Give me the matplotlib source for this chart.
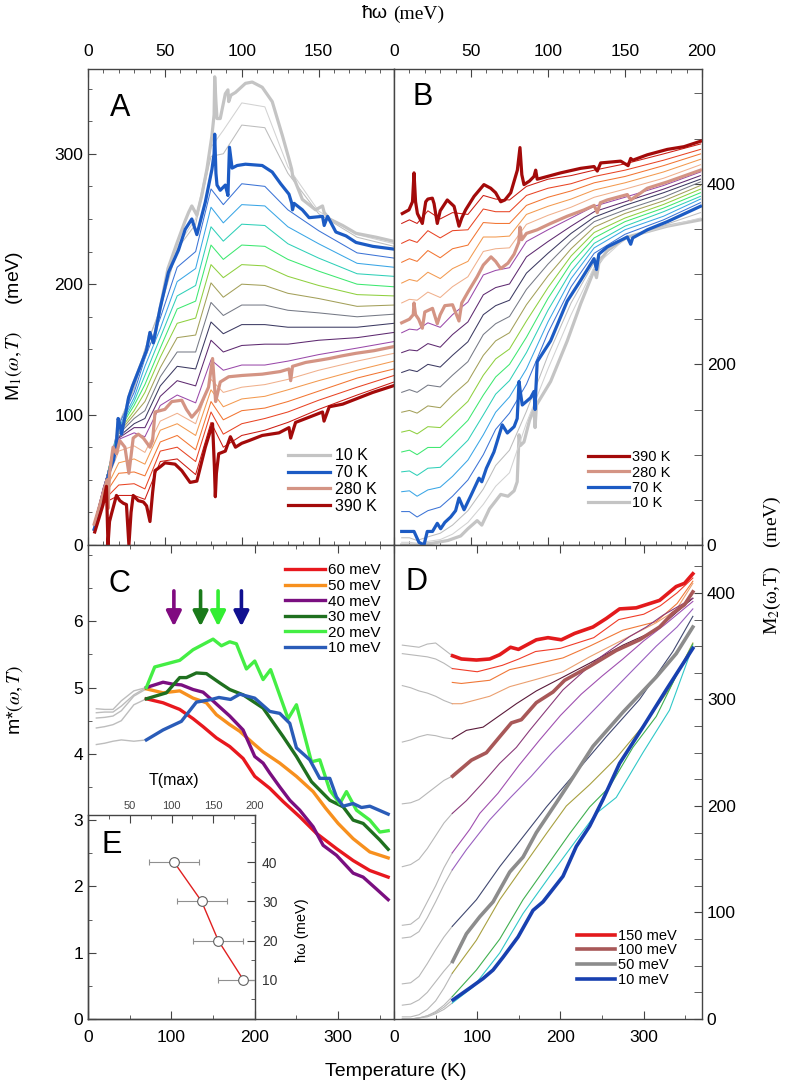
import matplotlib
matplotlib.use('Agg')
import matplotlib.pyplot as plt
from matplotlib.ticker import MultipleLocator, FixedLocator

plt.rcParams['font.family'] = ['Liberation Sans', 'DejaVu Sans']
plt.rcParams['mathtext.fontset'] = 'stix'

# ---------------- panel A : M1(w,T) ----------------
wA10 = [4, 6, 8, 10, 12, 14, 16.6, 18.5, 19.6, 20.9, 21.8, 24, 26.4, 29, 31, 33, 35, 38, 40.3, 42.5, 46.8,
        52, 58, 63, 65.4, 67.5, 70.8, 74, 77.3, 80.6, 82.0, 82.4, 83.2, 83.9, 86, 89.3, 91, 91.5, 93, 95.9,
        102.4, 106.8, 113.3, 119.8, 126.4, 130.7, 132.5, 133.2, 134, 139.4, 148, 152.5, 153.6, 156.9, 165.6,
        174.3, 187.4, 198.3]
mA10 = [12, 19, 28, 37, 48, 57, 65, 78, 97, 92, 85, 98, 113, 122, 128, 134, 140, 149, 163, 155, 181,
        212, 232, 248, 255, 260, 253, 268, 288, 314, 330, 359, 340, 327, 327, 346, 349, 340, 345, 347,
        354, 355, 351, 340, 314, 296, 288, 282, 281, 265, 257, 260, 255, 250, 245,
        239, 236, 233]
wA70 = [4, 6, 8, 10, 12, 14, 16.6, 18.5, 19.6, 20.9, 21.8, 24, 26.4, 29, 31, 33, 35, 38, 40.3, 42.5, 46.8,
        52.3, 58.8, 63.2, 67.5, 70.8, 76.3, 80.6, 82.0, 82.4, 83.2, 83.9, 86, 89.3, 91, 92, 93.7, 97,
        102.4, 113.3, 119.8, 125.3, 130.7, 132.5, 133, 134, 139.4, 143.8, 152.5, 153.6, 155.8, 161.2,
        167.8, 174.3, 185.2, 198.3]
mA70 = [12, 19, 28, 37, 48, 57, 65, 78, 97, 92, 85, 98, 113, 122, 128, 134, 140, 149, 163, 155, 181,
        209, 226, 242, 250, 238, 263, 288, 300, 315, 285, 276, 272, 276, 268, 305, 289, 291,
        292, 291, 286, 277, 269, 262, 257, 262, 257, 251, 252, 245, 252, 240,
        237, 232, 229, 227]
wA280 = [4, 7, 10.9, 12.5, 13, 14, 16.3, 18.5, 20.7, 24, 26.6, 29.4, 32.7, 36, 40.3, 42, 43.6, 50, 54.5,
         61, 64, 67.5, 71.9, 78.4, 81, 82.5, 83, 86, 91.5, 100.2, 113.3, 125, 130.7, 131.8, 133, 141.6,
         152, 156.9, 165, 174.3, 186, 198.3]
mA280 = [16, 28, 44, 50, 28, 55, 75, 70, 80, 75, 55, 82, 85, 82, 75, 80, 102, 104, 110,
         111, 104, 98, 104, 121, 143, 118, 110, 125, 129, 130, 131, 133, 135, 126, 137, 140,
         142, 143, 145, 147, 149, 152]
wA390 = [4.4, 7, 9.8, 12, 13, 14, 15.3, 18.5, 20.7, 23, 25, 26.6, 28, 29.4, 32.7, 36, 38.1, 40.3, 42, 43.6,
         47, 50.1, 56.6, 61, 66.4, 70.8, 76.3, 81, 82.2, 82.8, 83.5, 85, 89.3, 92.6, 95.9, 100, 104.6,
         113.3, 124.2, 130.7, 131.8, 135, 143.8, 152.5, 153.5, 156.9, 165.6, 174.3, 185.2, 198.3]
mA390 = [10, 20, 31, 45, 0, 18, 24, 38, 34, 32, 31, 0, 25, 38, 34, 33, 30, 18, 40, 57,
         60, 63, 62, 57, 48, 49, 75, 93, 60, 37, 55, 70, 72, 83, 75, 78, 80,
         84, 86, 90, 82, 94, 98, 102, 95, 106, 108, 112, 117, 122]

# thin curves of A and B (temperatures between the highlighted ones)
T_thin = [30, 50, 90, 110, 130, 150, 170, 190, 210, 230, 250, 270, 300, 320, 340, 360, 380]
thin_colors = ['#d2d2d2', '#bdbdbd', '#3c74d6', '#3aa6e6', '#2fd0b8', '#3de870', '#8fd040', '#a3a05a',
               '#767a86', '#3c3a62', '#5e2a70', '#9a4aaa', '#f0b08c', '#f39a50', '#f27532', '#e84424',
               '#cc1c12']
wA_thin = [4, 10, 20, 30, 37, 47, 58, 70, 80, 88, 100, 115, 130, 150, 175, 199]
mA_thin = [
    [15, 40, 93, 120, 150, 181, 229, 250, 305, 318, 339, 336, 290, 256, 238, 231],
    [15, 40, 93, 120, 150, 181, 227, 246, 298, 300, 322, 320, 285, 254, 236, 229],
    [15, 41, 92, 117, 143, 174, 213, 225, 273, 261, 277, 275, 257, 241, 224, 220],
    [15, 41, 90, 113, 137, 166, 202, 212, 259, 247, 261, 260, 244, 231, 216, 213],
    [15, 42, 89, 110, 130, 159, 191, 199, 244, 233, 246, 245, 231, 220, 208, 206],
    [15, 42, 88, 107, 123, 151, 181, 187, 230, 219, 230, 229, 219, 210, 200, 198],
    [16, 42, 87, 103, 117, 144, 170, 174, 215, 205, 215, 214, 206, 199, 192, 191],
    [16, 43, 86, 100, 110, 136, 159, 161, 201, 190, 200, 199, 193, 189, 183, 184],
    [16, 43, 85, 97, 103, 129, 148, 148, 186, 176, 184, 184, 180, 178, 175, 177],
    [16, 43, 83, 93, 97, 122, 137, 135, 171, 162, 169, 169, 167, 167, 167, 170],
    [16, 44, 82, 90, 90, 114, 126, 122, 157, 148, 153, 154, 154, 157, 159, 163],
    [16, 44, 81, 86, 83, 107, 115, 109, 142, 134, 138, 138, 141, 146, 151, 156],
    [15, 42, 72, 76, 71, 95, 101, 93, 127, 117, 121, 123, 127, 134, 141, 147],
    [14, 39, 63, 66, 62, 88, 93, 84, 119, 106, 112, 114, 119, 126, 134, 141],
    [13, 37, 55, 56, 53, 79, 84, 73, 110, 96, 103, 105, 110, 118, 128, 135],
    [12, 34, 46, 47, 43, 72, 75, 64, 102, 85, 93, 97, 102, 111, 121, 130],
    [11, 32, 38, 38, 35, 64, 66, 54, 94, 75, 84, 88, 94, 104, 115, 125],
]

# ---------------- panel B : M2(w,T) ----------------
wB390 = [5.4, 9.7, 12, 13, 14, 15.2, 18.4, 20.6, 22, 24.9, 26, 28.1, 30, 34.6, 39, 42.2, 44, 46.5, 52,
         58.4, 62.8, 66, 69.3, 72, 75.8, 80.1, 81.8, 83, 84.4, 88, 90.9, 92, 93, 95.2, 108.2, 121.2,
         129.9, 132, 134.2, 147.2, 152, 153.7, 155, 164.5, 177.5, 188.3, 199]
mB390 = [367, 371, 380, 412, 380, 367, 356, 380, 383, 384, 378, 356, 370, 382, 375, 353, 362, 371, 386,
         399, 395, 390, 380, 382, 390, 415, 440, 410, 399, 403, 408, 415, 405, 406, 412, 417,
         419, 414, 423, 425, 420, 428, 426, 432, 438, 441, 447]
wB280 = [5, 10, 12.5, 13, 14, 16, 18.4, 20, 25, 28.1, 30, 33, 38, 42.2, 44, 48, 54, 58, 63, 66, 69.3, 74,
         78, 81, 81.8, 83, 86, 93, 101.7, 112.5, 123.4, 130, 132, 134, 138.5, 151.5, 153.7, 164.5,
         177.5, 199]
mB280 = [246, 250, 255, 268, 255, 250, 240, 258, 262, 245, 255, 265, 266, 248, 268, 280, 297, 310, 319,
         314, 306, 312, 322, 335, 352, 338, 345, 349, 356, 364, 371, 376, 368, 379, 382, 388, 382, 395,
         402, 415]
wB70 = [5, 10, 13, 16.2, 19.5, 21.6, 25, 28.1, 30.3, 33, 36.8, 40, 42.2, 45.5, 50, 55.2, 57, 60, 64.9,
        70.3, 73.6, 78, 80, 81.2, 82, 83.3, 88.7, 90.9, 91.6, 92.2, 93, 101.7, 112.5, 121.2, 129.9, 131.5,
        133, 138.5, 151.5, 153.7, 155, 164.5, 177.5, 199]
mB70 = [15, 15, 15, 3, 0, 15, 15, 24, 18, 25, 31, 38, 52, 39, 55, 74, 70, 85, 103,
        133, 124, 131, 140, 181, 170, 155, 163, 170, 150, 175, 203, 226, 270, 293, 317, 305,
        322, 330, 341, 333, 340, 349, 358, 375]
wB10 = [5, 15, 25, 35, 43.3, 48, 54, 57, 62, 69.3, 74, 78, 80, 81.2, 82, 84.4, 88, 90.9, 91.6, 92.5,
        101.7, 112.5, 121.2, 129.9, 131.5, 133, 138.5, 151.5, 164.5, 177.5, 199]
mB10 = [0, 0, 2, 5, 10, 18, 27, 22, 40, 56, 54, 60, 70, 122, 110, 114, 138, 151, 130, 155,
        181, 226, 267, 304, 296, 312, 326, 341, 347, 353, 360]
wB_thin = [5, 10, 15, 22, 30, 38, 48, 58, 66, 75, 86, 100, 115, 130, 150, 175, 199]
mB_thin = [
    [3, 3, 2, 4, 6, 12, 25, 45, 65, 80, 135, 195, 255, 308, 339, 352, 362],
    [8, 8, 5, 9, 13, 22, 38, 62, 88, 105, 148, 210, 268, 313, 340, 354, 368],
    [37, 37, 31, 38, 42, 54, 72, 100, 128, 146, 178, 235, 286, 323, 344, 360, 379],
    [59, 60, 54, 61, 64, 76, 94, 122, 147, 164, 195, 247, 295, 329, 349, 364, 383],
    [81, 82, 77, 85, 86, 99, 116, 144, 167, 182, 213, 260, 303, 334, 353, 369, 386],
    [103, 105, 100, 108, 108, 121, 138, 166, 186, 200, 230, 273, 312, 340, 358, 373, 390],
    [125, 127, 123, 131, 130, 143, 159, 188, 206, 217, 248, 285, 320, 346, 362, 377, 394],
    [147, 149, 146, 154, 152, 166, 181, 210, 226, 235, 266, 298, 328, 352, 367, 381, 398],
    [169, 172, 169, 177, 175, 188, 203, 233, 245, 253, 283, 311, 337, 358, 371, 385, 402],
    [191, 194, 192, 200, 197, 210, 225, 255, 265, 271, 301, 323, 345, 363, 376, 390, 405],
    [213, 216, 215, 223, 219, 233, 247, 277, 285, 289, 319, 336, 353, 369, 380, 394, 409],
    [235, 239, 238, 246, 241, 255, 269, 299, 304, 307, 336, 349, 362, 375, 385, 398, 413],
    [268, 272, 271, 280, 274, 286, 297, 325, 328, 329, 355, 365, 374, 385, 394, 406, 421],
    [290, 294, 292, 302, 295, 306, 314, 341, 341, 342, 366, 375, 383, 393, 401, 413, 427],
    [313, 317, 314, 326, 318, 328, 332, 357, 356, 356, 376, 385, 392, 401, 408, 420, 433],
    [334, 338, 335, 348, 340, 348, 349, 372, 369, 369, 387, 395, 400, 408, 415, 426, 438],
    [356, 360, 356, 370, 361, 368, 366, 387, 383, 382, 397, 405, 409, 415, 422, 433, 444],
]

# ---------------- panel C : m*(w,T) ----------------
T_c60 = [70, 90, 110, 126, 138, 154, 170, 186, 200, 218, 234, 254, 274, 298, 318, 338, 360]
m_c60 = [4.83, 4.77, 4.67, 4.53, 4.41, 4.24, 4.11, 3.93, 3.66, 3.48, 3.28, 3.05, 2.80, 2.57, 2.39, 2.24, 2.14]
T_c50 = [70, 90, 110, 126, 142, 154, 170, 182, 198, 210, 230, 250, 270, 285, 300, 318, 338, 360]
m_c50 = [4.98, 4.92, 4.95, 4.84, 4.77, 4.59, 4.44, 4.34, 4.16, 4.03, 3.86, 3.66, 3.43, 3.18, 2.95, 2.72,
         2.52, 2.43]
T_c40 = [70, 90, 102, 112, 126, 138, 148, 170, 186, 200, 210, 218, 230, 242, 254, 270, 282, 298, 318, 330,
         346, 360]
m_c40 = [5.0, 5.08, 5.05, 5.04, 4.97, 4.93, 4.82, 4.57, 4.36, 3.96, 3.86, 3.71, 3.50, 3.30, 3.15, 2.90,
         2.62, 2.47, 2.20, 2.14, 1.96, 1.80]
T_c30 = [70, 94, 110, 118, 130, 142, 158, 170, 186, 210, 234, 250, 268, 290, 306, 318, 330, 342, 350, 360]
m_c30 = [4.83, 4.92, 5.15, 5.15, 5.22, 5.21, 5.07, 4.97, 4.89, 4.69, 4.26, 3.96, 3.58, 3.30, 3.20, 3.0,
         2.95, 2.80, 2.70, 2.56]
T_c20 = [70, 80, 110, 126, 150, 160, 170, 178, 190, 200, 210, 219, 240, 250, 268, 278, 290, 302, 310, 322,
         338, 350, 360]
m_c20 = [5.0, 5.31, 5.41, 5.57, 5.73, 5.63, 5.69, 5.66, 5.28, 5.40, 5.12, 5.27, 4.53, 4.74, 3.88, 3.91,
         3.45, 3.25, 3.43, 3.15, 3.0, 2.82, 2.84]
T_c10 = [70, 90, 112, 130, 148, 157, 171, 182, 200, 218, 230, 242, 250, 266, 278, 290, 298, 306, 318, 328,
         338, 360]
m_c10 = [4.21, 4.36, 4.49, 4.78, 4.82, 4.85, 4.82, 4.90, 4.84, 4.64, 4.61, 4.46, 4.09, 3.91, 3.63, 3.63,
         3.35, 3.21, 3.25, 3.19, 3.21, 3.09]
T_cgray = [10, 20, 30, 40, 55, 70]
m_cgray = [
    [4.14, 4.16, 4.19, 4.21, 4.19, 4.21],
    [4.39, 4.41, 4.44, 4.50, 4.74, 4.83],
    [4.54, 4.55, 4.57, 4.65, 4.87, 4.98],
    [4.62, 4.63, 4.63, 4.72, 4.89, 5.0],
    [4.68, 4.67, 4.67, 4.80, 4.95, 5.0],
]
arrow_T = [103, 135, 156, 184]
arrow_colors = ['#800a80', '#1a7a1a', '#33ee33', '#101090']

# ---------------- panel D : M2(T) at fixed w ----------------
T_d150 = [70.4, 81, 99, 115, 127, 140, 149.5, 171, 185, 201, 217, 239, 255, 271, 291, 319, 339, 349, 359]
M_d150 = [341, 338, 337, 338, 342, 349, 347, 356, 358, 356, 362, 368, 376, 385, 386, 393, 406, 409, 418]
T_d100 = [70.4, 93, 111, 127, 141, 153, 171, 191, 205, 235, 267, 295, 319, 335, 349, 359]
M_d100 = [228, 243, 250, 265, 278, 281, 297, 307, 318, 331, 346, 356, 368, 381, 389, 401]
T_d50 = [70.4, 87, 103, 119, 139, 155, 171, 195, 211, 239, 275, 315, 339, 359]
M_d50 = [54, 80, 96, 110, 138, 152, 175, 203, 222, 256, 288, 321, 343, 368]
T_d10 = [71, 91, 107, 119, 131, 149, 167, 179, 203, 219, 235, 251, 271, 299, 327, 359]
M_d10 = [18, 29, 38, 46, 58, 77, 102, 110, 134, 162, 181, 206, 240, 274, 309, 348]

T_d140 = [70, 100, 130, 150, 170, 200, 240, 270, 300, 320, 340, 359]
M_d140 = [329, 326, 332, 338, 345, 348, 358, 375, 380, 388, 400, 414]
T_d130 = [70, 81, 115, 139, 163, 203, 235, 275, 315, 340, 359]
M_d130 = [316, 315, 318, 328, 332, 339, 350, 365, 373, 390, 411]
T_d120 = [70, 81, 115, 139, 167, 203, 235, 275, 315, 339, 359]
M_d120 = [296, 296, 303, 312, 318, 326, 340, 356, 372, 384, 409]
T_d110 = [70, 87, 107, 127, 147, 171, 203, 235, 275, 315, 347, 359]
M_d110 = [263, 271, 274, 285, 296, 308, 321, 334, 351, 365, 387, 395]
T_d90 = [70, 87, 107, 127, 147, 163, 183, 203, 223, 243, 263, 283, 303, 323, 343, 359]
M_d90 = [193, 205, 222, 240, 255, 271, 290, 309, 323, 337, 348, 359, 368, 379, 388, 395]
T_d80 = [70, 91, 103, 125, 150, 175, 200, 225, 250, 275, 300, 325, 359]
M_d80 = [156, 178, 193, 212, 238, 262, 285, 305, 322, 338, 355, 370, 392]
T_d70 = [70, 87, 115, 140, 165, 190, 215, 240, 265, 290, 315, 340, 359]
M_d70 = [140, 159, 187, 208, 228, 250, 270, 290, 310, 330, 350, 368, 385]
T_d60 = [70, 99, 127, 155, 183, 219, 255, 295, 335, 359]
M_d60 = [87, 112, 143, 171, 199, 232, 265, 300, 345, 378]
T_d40 = [70, 99, 127, 155, 183, 207, 235, 267, 299, 331, 359]
M_d40 = [43, 74, 112, 143, 174, 200, 220, 245, 275, 310, 353]
T_d30 = [70, 99, 127, 155, 183, 211, 235, 259, 287, 315, 339, 359]
M_d30 = [21, 46, 75, 112, 143, 174, 199, 218, 255, 284, 322, 352]
T_d20 = [70, 95, 127, 155, 187, 219, 243, 267, 299, 331, 359]
M_d20 = [15, 30, 62, 99, 134, 168, 193, 208, 250, 290, 350]

T_dgray = [10, 20, 30, 40, 50, 60, 70]
M_dgray = [
    [351, 350, 349, 352, 353, 347, 341],
    [343, 342, 341, 340, 338, 334, 329],
    [313, 311, 308, 306, 303, 299, 296],
    [260, 262, 265, 267, 266, 264, 263],
    [202, 203, 206, 212, 218, 224, 228],
    [143, 145, 150, 160, 172, 184, 193],
    [88, 89, 95, 110, 125, 142, 156],
    [76, 77, 82, 95, 110, 126, 140],
    [33, 34, 40, 52, 65, 77, 87],
    [13, 14, 18, 25, 35, 45, 54],
    [2, 2, 4, 9, 17, 29, 43],
    [0, 0, 1, 3, 7, 13, 21],
    [0, 0, 1, 2, 5, 9, 15],
    [0, 0, 1, 3, 6, 11, 18],
]

# ---------------- inset E ----------------
T_max = [103, 136, 156, 186]
w_E = [40, 30, 20, 10]
T_err = [30, 30, 30, 30]

# ---------------- figure ----------------
W, H = 793, 1086
fig = plt.figure(figsize=(W / 100, H / 100), dpi=100)


def box(x0, y0, x1, y1):
    return [x0 / W, 1 - y1 / H, (x1 - x0) / W, (y1 - y0) / H]


axA = fig.add_axes(box(88, 69, 394, 545))
axB = fig.add_axes(box(394, 69, 702, 545))
axC = fig.add_axes(box(88, 545, 394, 1019))
axD = fig.add_axes(box(394, 545, 702, 1019))
axE = fig.add_axes(box(88, 815, 255, 1019))
axE.set_facecolor('none')

c10, c70, c280, c390 = '#c4c4c4', '#1c5bc4', '#d49484', '#a30a0a'
thin_lw, thick_lw = 0.75, 2.3

# A
for row, col in zip(mA_thin, thin_colors):
    axA.plot(wA_thin, row, color=col, lw=thin_lw, zorder=2)
lA10, = axA.plot(wA10, mA10, color=c10, lw=thick_lw, zorder=3, label='10 K')
lA70, = axA.plot(wA70, mA70, color=c70, lw=thick_lw, zorder=4, label='70 K')
lA280, = axA.plot(wA280, mA280, color=c280, lw=thick_lw, zorder=4, label='280 K')
lA390, = axA.plot(wA390, mA390, color=c390, lw=thick_lw, zorder=4, label='390 K')
axA.legend(handles=[lA10, lA70, lA280, lA390], loc='lower right', bbox_to_anchor=(0.99, 0.035),
           frameon=False, fontsize=11.5, handlelength=2.6, labelspacing=0.12, handletextpad=0.3)

# B
lB10, = axB.plot(wB10, mB10, color=c10, lw=thick_lw, zorder=2, label='10 K')
for row, col in zip(mB_thin, thin_colors):
    axB.plot(wB_thin, row, color=col, lw=thin_lw, zorder=2)
lB70, = axB.plot(wB70, mB70, color=c70, lw=thick_lw, zorder=4, label='70 K')
lB280, = axB.plot(wB280, mB280, color=c280, lw=thick_lw, zorder=4, label='280 K')
lB390, = axB.plot(wB390, mB390, color=c390, lw=thick_lw, zorder=4, label='390 K')
axB.legend(handles=[lB390, lB280, lB70, lB10], loc='lower right', bbox_to_anchor=(0.94, 0.045),
           frameon=False, fontsize=10.5, handlelength=2.8, labelspacing=0.1, handletextpad=0.2)

# C
for row in m_cgray:
    axC.plot(T_cgray, row, color='#bdbdbd', lw=1.0, zorder=2)
curvesC = [(T_c60, m_c60, '#e8181e', '60 meV'), (T_c50, m_c50, '#f7901e', '50 meV'),
           (T_c40, m_c40, '#7a0f80', '40 meV'), (T_c30, m_c30, '#1f701f', '30 meV'),
           (T_c20, m_c20, '#44ee44', '20 meV'), (T_c10, m_c10, '#2a5cb8', '10 meV')]
for t, m, col, lab in curvesC:
    axC.plot(t, m, color=col, lw=2.4, label=lab, zorder=3)
axC.legend(loc='upper right', bbox_to_anchor=(1.0, 0.99), frameon=False, fontsize=11,
           handlelength=2.6, labelspacing=0.1, handletextpad=0.2)
for t, col in zip(arrow_T, arrow_colors):
    axC.annotate('', xy=(t, 5.88), xytext=(t, 6.5),
                 arrowprops=dict(arrowstyle='-|>,head_width=0.45,head_length=0.9', color=col, lw=2.6))

# D
for row in M_dgray:
    axD.plot(T_dgray, row, color='#b8b8b8', lw=0.8, zorder=2)
thinD = [(T_d140, M_d140, '#f03c28'), (T_d130, M_d130, '#f07838'), (T_d120, M_d120, '#eba070'),
         (T_d110, M_d110, '#5a1a3a'), (T_d90, M_d90, '#8a3a7a'), (T_d80, M_d80, '#a050b0'),
         (T_d70, M_d70, '#9a60c0'), (T_d60, M_d60, '#404870'), (T_d40, M_d40, '#a8a040'),
         (T_d30, M_d30, '#40b050'), (T_d20, M_d20, '#30c8c8')]
for t, m, col in thinD:
    axD.plot(t, m, color=col, lw=0.8, zorder=2)
lD150, = axD.plot(T_d150, M_d150, color='#e31a1c', lw=thick_lw + 0.3, zorder=4, label='150 meV')
lD100, = axD.plot(T_d100, M_d100, color='#a85858', lw=thick_lw + 0.3, zorder=4, label='100 meV')
lD50, = axD.plot(T_d50, M_d50, color='#8c8c8c', lw=thick_lw + 0.3, zorder=4, label='50 meV')
lD10, = axD.plot(T_d10, M_d10, color='#1840b0', lw=thick_lw + 0.3, zorder=4, label='10 meV')
axD.legend(handles=[lD150, lD100, lD50, lD10], loc='lower right', bbox_to_anchor=(0.96, 0.04),
           frameon=False, fontsize=10.5, handlelength=2.6, labelspacing=0.05, handletextpad=0.2)

# E
axE.plot(T_max, w_E, color='#e02020', lw=1.0, zorder=2)
axE.errorbar(T_max, w_E, xerr=T_err, fmt='o', ms=7, mfc='white', mec='#606060', mew=0.8,
             ecolor='#909090', elinewidth=0.8, capsize=2, zorder=3)

# axes cosmetics
spine_col = '#444444'
for ax in (axA, axB, axC, axD, axE):
    for s in ax.spines.values():
        s.set_color(spine_col)
        s.set_linewidth(1.0)
    ax.tick_params(which='both', direction='in', colors=spine_col, labelcolor='black', labelsize=12.5)
    ax.tick_params(which='major', length=6)
    ax.tick_params(which='minor', length=3)

axA.set_xlim(0, 199)
axA.set_ylim(0, 365)
axA.xaxis.set_major_locator(FixedLocator([0, 50, 100, 150]))
axA.xaxis.set_minor_locator(MultipleLocator(10))
axA.yaxis.set_major_locator(MultipleLocator(100))
axA.yaxis.set_minor_locator(MultipleLocator(25))
axA.tick_params(which='both', top=True, bottom=True, left=True, right=False,
                labeltop=True, labelbottom=False)
axA.tick_params(axis='x', pad=7)

axB.set_xlim(0, 200)
axB.set_ylim(0, 527)
axB.xaxis.set_major_locator(MultipleLocator(50))
axB.xaxis.set_minor_locator(MultipleLocator(10))
axB.yaxis.set_major_locator(MultipleLocator(200))
axB.yaxis.set_minor_locator(MultipleLocator(50))
axB.tick_params(which='both', top=True, bottom=True, left=False, right=True,
                labeltop=True, labelbottom=False, labelleft=False, labelright=True)
axB.tick_params(axis='x', pad=7)
axB.tick_params(axis='y', which='minor', length=6)

axC.set_xlim(0, 367)
axC.set_ylim(0, 7.15)
axC.xaxis.set_major_locator(MultipleLocator(100))
axC.xaxis.set_minor_locator(MultipleLocator(50))
axC.yaxis.set_major_locator(FixedLocator([0, 1, 2, 3, 4, 5, 6]))
axC.yaxis.set_minor_locator(MultipleLocator(0.5))
axC.tick_params(which='both', top=True, bottom=True, left=True, right=False)
axC.tick_params(axis='x', pad=8)

axD.set_xlim(0, 370)
axD.set_ylim(0, 445)
axD.xaxis.set_major_locator(MultipleLocator(100))
axD.xaxis.set_minor_locator(MultipleLocator(50))
axD.yaxis.set_major_locator(MultipleLocator(100))
axD.yaxis.set_minor_locator(MultipleLocator(25))
axD.tick_params(which='both', top=True, bottom=True, left=False, right=True,
                labelleft=False, labelright=True)
axD.tick_params(axis='x', pad=8)
axD.tick_params(axis='y', which='minor', length=6)

axE.set_xlim(0, 200)
axE.set_ylim(0, 52)
axE.xaxis.set_major_locator(FixedLocator([50, 100, 150, 200]))
axE.xaxis.set_minor_locator(MultipleLocator(25))
axE.yaxis.set_major_locator(FixedLocator([10, 20, 30, 40]))
axE.yaxis.set_minor_locator(MultipleLocator(5))
axE.tick_params(which='both', top=True, bottom=False, left=False, right=True,
                labeltop=True, labelbottom=False, labelleft=False, labelright=True)
axE.tick_params(axis='x', labelsize=8, labelcolor='#444444', pad=3)
axE.tick_params(axis='y', labelsize=10, labelcolor='#333333', pad=5)

# panel letters
for ax, letter, (px, py) in [(axA, 'A', (120, 108)), (axB, 'B', (423, 97)), (axC, 'C', (119, 584)),
                             (axD, 'D', (417, 582)), (axE, 'E', (112, 845))]:
    fig.text(px / W, 1 - py / H, letter, fontsize=22, ha='center', va='center')

# axis titles
fig.text(388 / W, 1 - 14 / H, 'ħω', fontsize=14, ha='right', va='center')
fig.text(393 / W, 1 - 14 / H, '(meV)', fontsize=14, ha='left', va='center',
         family=['Liberation Serif', 'DejaVu Serif'])
fig.text(396 / W, 1 - 1071 / H, 'Temperature (K)', fontsize=14, ha='center', va='center')
fig.text(14 / W, 1 - 326 / H, r'M$_1$$(\omega,T)$     (meV)', fontsize=14, rotation=90,
         ha='center', va='center')
fig.text(15 / W, 1 - 700 / H, r'm*$(\omega,T)$', fontsize=14, rotation=90, ha='center', va='center')
fig.text(772 / W, 1 - 565 / H, r'M$_2$(ω,T)    (meV)', fontsize=14, rotation=90, ha='center',
         va='center', family=['Liberation Serif', 'DejaVu Serif'])
fig.text(174 / W, 1 - 780 / H, 'T(max)', fontsize=11.5, ha='center', va='center')
fig.text(302 / W, 1 - 930 / H, 'ħω (meV)', fontsize=10.5, rotation=90, ha='center', va='center')

fig.savefig('out.png', dpi=100)
